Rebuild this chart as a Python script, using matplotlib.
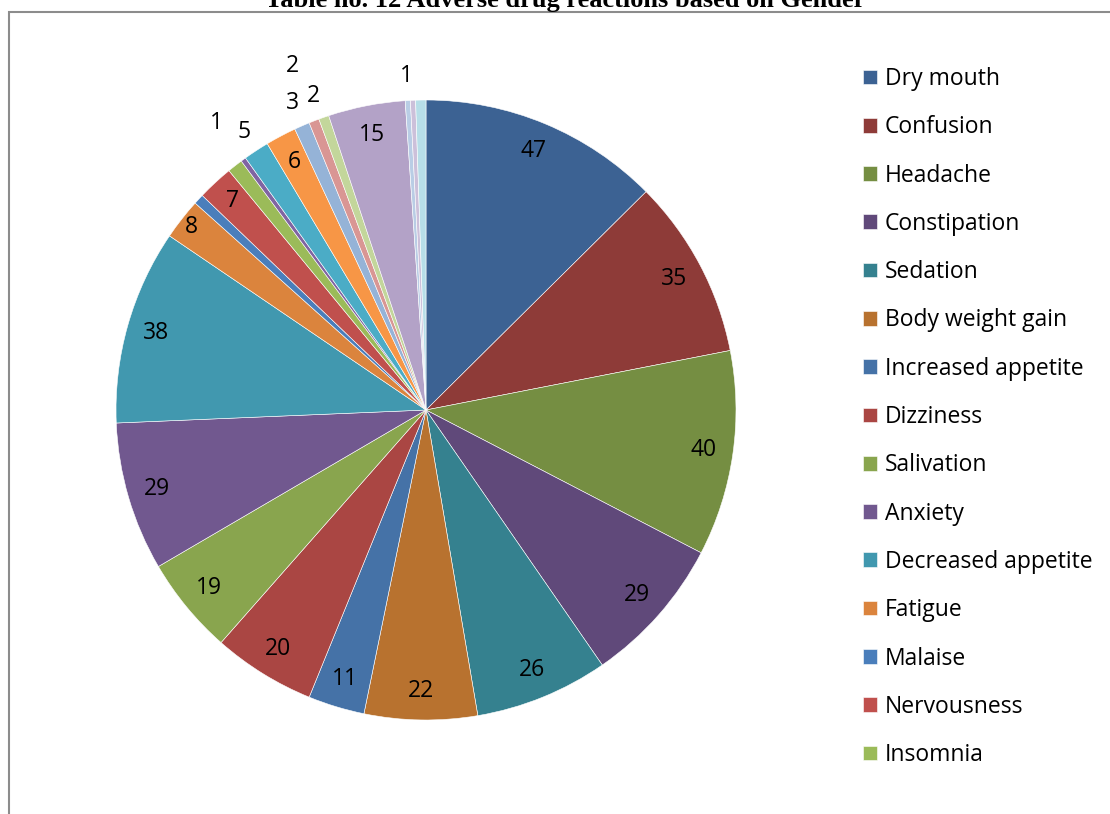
import numpy as np
import matplotlib
matplotlib.use("Agg")
from matplotlib import pyplot as plt
from matplotlib.patches import Rectangle

# reaction names shown in the legend (first 15 slices)
reactions = ["Dry mouth", "Confusion", "Headache", "Constipation", "Sedation",
             "Body weight gain", "Increased appetite", "Dizziness", "Salivation",
             "Anxiety", "Decreased appetite", "Fatigue", "Malaise", "Nervousness",
             "Insomnia"]

# number of patients per reaction, clockwise from the top
counts = [47, 35, 40, 29, 26, 22, 11, 20, 19, 29, 38, 8, 2, 7, 3,
          1, 5, 6, 3, 2, 2, 15, 1, 1, 2]

# which counts get a label, and how far out from the centre (fraction of radius)
label_r = [0.905, 0.905, 0.905, 0.905, 0.905, 0.905, 0.905, 0.905, 0.905,
           0.905, 0.905, 0.96, None, 0.92, None,
           1.146, 1.07, 0.905, 1.08, 1.075, 1.19, 0.905, 1.08, None, None]
# small angular nudges (degrees) so crowded outside labels don't collide
label_nudge = {19: -1.5, 20: 2.0}

colors = ["#3c6293", "#8e3b38", "#758e42", "#60497a", "#35818f", "#b8722f",
          "#4572a7", "#aa4643", "#89a54e", "#71588f", "#4198af", "#db843d",
          "#4a7ebb", "#c0504d", "#9bbb59", "#8064a2", "#4bacc6", "#f79646",
          "#95b3d7", "#d99694", "#c3d69b", "#b3a2c7", "#b9cde5", "#ccc0da",
          "#b7dee8"]

W, H = 1110, 814
fig = plt.figure(figsize=(W / 100, H / 100), dpi=100)

# chart frame (only left and top edges fall inside the image)
fig.patches.append(Rectangle((9 / W, -0.05), 1.2, 1 - 12 / H + 0.05,
                             transform=fig.transFigure, fill=False,
                             edgecolor="#8c8c8c", linewidth=1.5))

fig.text(565 / W, 1 - 7 / H, "Table no. 12 Adverse drug reactions based on Gender",
         ha="center", va="baseline", fontsize=19, fontweight="bold",
         family="Liberation Serif")

cx, cy, R = 426, H - 410, 310
ax = fig.add_axes([(cx - R) / W, (cy - R) / H, 2 * R / W, 2 * R / H])
wedges, _ = ax.pie(counts, colors=colors, startangle=90, counterclock=False,
                   radius=1, wedgeprops=dict(edgecolor="white", linewidth=0.4))
ax.set_xlim(-1, 1)
ax.set_ylim(-1, 1)
ax.set_aspect("equal")
ax.axis("off")

for i, (w, n, r) in enumerate(zip(wedges, counts, label_r)):
    if r is None:
        continue
    ang = np.deg2rad((w.theta1 + w.theta2) / 2 + label_nudge.get(i, 0))
    ax.text(r * np.cos(ang), r * np.sin(ang), str(n), ha="center", va="center",
            fontsize=16.5, family="Open Sans", clip_on=False)

fig.legend(wedges[:len(reactions)], reactions, loc="upper left",
           bbox_to_anchor=(863 / W, 1 - 67 / H), frameon=False,
           prop=dict(family="Open Sans", size=16.5), handlelength=0.61,
           handleheight=0.61, handletextpad=0.35, labelspacing=1.06,
           borderaxespad=0, borderpad=0)

fig.savefig("out.png", dpi=100)
